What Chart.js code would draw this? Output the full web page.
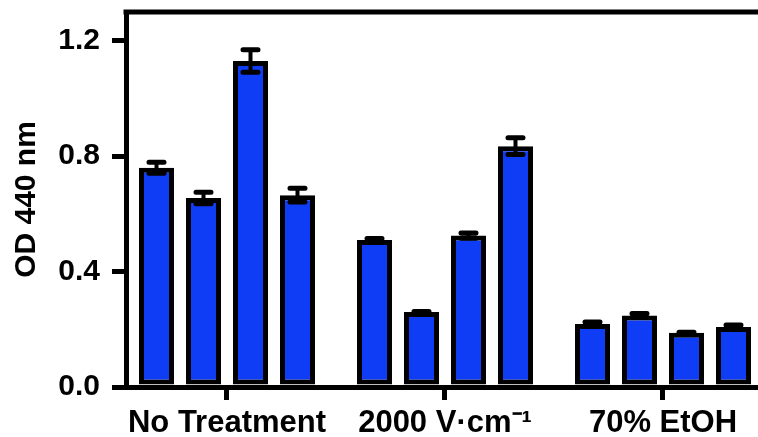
<!DOCTYPE html>
<html>
<head>
<meta charset="utf-8">
<script src="https://cdn.jsdelivr.net/npm/chart.js@4.4.1/dist/chart.umd.min.js"></script>
<style>
  html, body { margin: 0; padding: 0; background: #fff; overflow: hidden; }
  canvas { display: block; }
</style>
</head>
<body>
<canvas id="chart" width="758" height="437"></canvas>
<script>
const categories = ['No Treatment', '2000 V·cm⁻¹', '70% EtOH'];
// one array per bar position inside each group
const bar1 = [0.76, 0.51, 0.218];
const bar2 = [0.655, 0.26, 0.248];
const bar3 = [1.13, 0.525, 0.188];
const bar4 = [0.665, 0.835, 0.208];
const err1 = [0.019, 0.005, 0.007];
const err2 = [0.02, 0.002, 0.007];
const err3 = [0.039, 0.009, 0.002];
const err4 = [0.024, 0.029, 0.007];
const yTicks = [0, 0.4, 0.8, 1.2];

const series = [bar1, bar2, bar3, bar4];
const errors = [err1, err2, err3, err4];

const blue = '#0f3cf5';
const family = "'Liberation Sans', Arial, sans-serif";

const errorBars = {
    id: 'errorBars',
    afterDatasetsDraw(chart) {
        const ctx = chart.ctx;
        const y = chart.scales.y;
        ctx.save();
        ctx.strokeStyle = '#000';
        ctx.lineCap = 'round';
        chart.data.datasets.forEach((ds, i) => {
            chart.getDatasetMeta(i).data.forEach((bar, j) => {
                const v = series[i][j];
                const e = errors[i][j];
                const top = y.getPixelForValue(v + e);
                const bot = y.getPixelForValue(v - e);
                ctx.lineWidth = 4;
                ctx.beginPath();
                ctx.moveTo(bar.x, top);
                ctx.lineTo(bar.x, bot);
                ctx.stroke();
                ctx.lineWidth = 5;
                ctx.beginPath();
                ctx.moveTo(bar.x - 7.5, top);
                ctx.lineTo(bar.x + 7.5, top);
                ctx.moveTo(bar.x - 7.5, bot);
                ctx.lineTo(bar.x + 7.5, bot);
                ctx.stroke();
            });
        });
        ctx.restore();
    }
};

const topLine = {
    id: 'topLine',
    afterDraw(chart) {
        const { ctx, chartArea } = chart;
        ctx.save();
        ctx.strokeStyle = '#000';
        ctx.lineWidth = 5;
        ctx.beginPath();
        ctx.moveTo(chartArea.left - 2.5, chartArea.top);
        ctx.lineTo(chartArea.right, chartArea.top);
        ctx.stroke();
        ctx.restore();
    }
};

function noPadding(scale) {
    scale.paddingTop = 0;
    scale.paddingBottom = 0;
    scale.paddingLeft = 0;
    scale.paddingRight = 0;
}

new Chart(document.getElementById('chart').getContext('2d'), {
    type: 'bar',
    data: {
        datasets: series.map((vals, i) => ({
            label: 'bar ' + (i + 1),
            data: vals.map((v, j) => ({ x: j, y: v })),
            backgroundColor: blue,
            borderColor: '#000',
            borderWidth: 5,
            borderSkipped: false,
            categoryPercentage: 0.8624,
            barPercentage: 0.745
        }))
    },
    options: {
        responsive: false,
        animation: false,
        layout: { padding: { top: 12, left: 0, right: 0, bottom: 0 } },
        plugins: {
            legend: { display: false },
            tooltip: { enabled: false }
        },
        scales: {
            x: {
                type: 'linear',
                min: -0.4633,
                max: 2.4358,
                offset: false,
                afterBuildTicks: (scale) => {
                    scale.ticks = categories.map((c, i) => ({ value: i }));
                },
                afterFit: (scale) => { scale.height = 50; noPadding(scale); },
                grid: {
                    offset: false,
                    drawOnChartArea: false,
                    tickLength: 13,
                    lineWidth: 5,
                    color: '#000'
                },
                border: { width: 5, color: '#000' },
                ticks: {
                    autoSkip: false,
                    maxRotation: 0,
                    padding: 5,
                    color: '#000',
                    font: { family: family, weight: 'bold', size: 31 },
                    callback: (v) => categories[v] ?? ''
                }
            },
            y: {
                min: 0,
                max: 1.3,
                afterBuildTicks: (scale) => {
                    scale.ticks = yTicks.map(v => ({ value: v }));
                },
                afterFit: (scale) => { scale.width = 126; noPadding(scale); },
                grid: {
                    drawOnChartArea: false,
                    tickLength: 14,
                    lineWidth: 5,
                    color: '#000'
                },
                border: { width: 5, color: '#000' },
                ticks: {
                    padding: 12,
                    color: '#000',
                    font: { family: family, weight: 'bold', size: 30 },
                    callback: (v) => v.toFixed(1)
                },
                title: {
                    display: true,
                    text: 'OD 440 nm',
                    color: '#000',
                    font: { family: family, weight: 'bold', size: 30 },
                    padding: { top: 9, bottom: 0 }
                }
            }
        }
    },
    plugins: [errorBars, topLine]
});
</script>
</body>
</html>
